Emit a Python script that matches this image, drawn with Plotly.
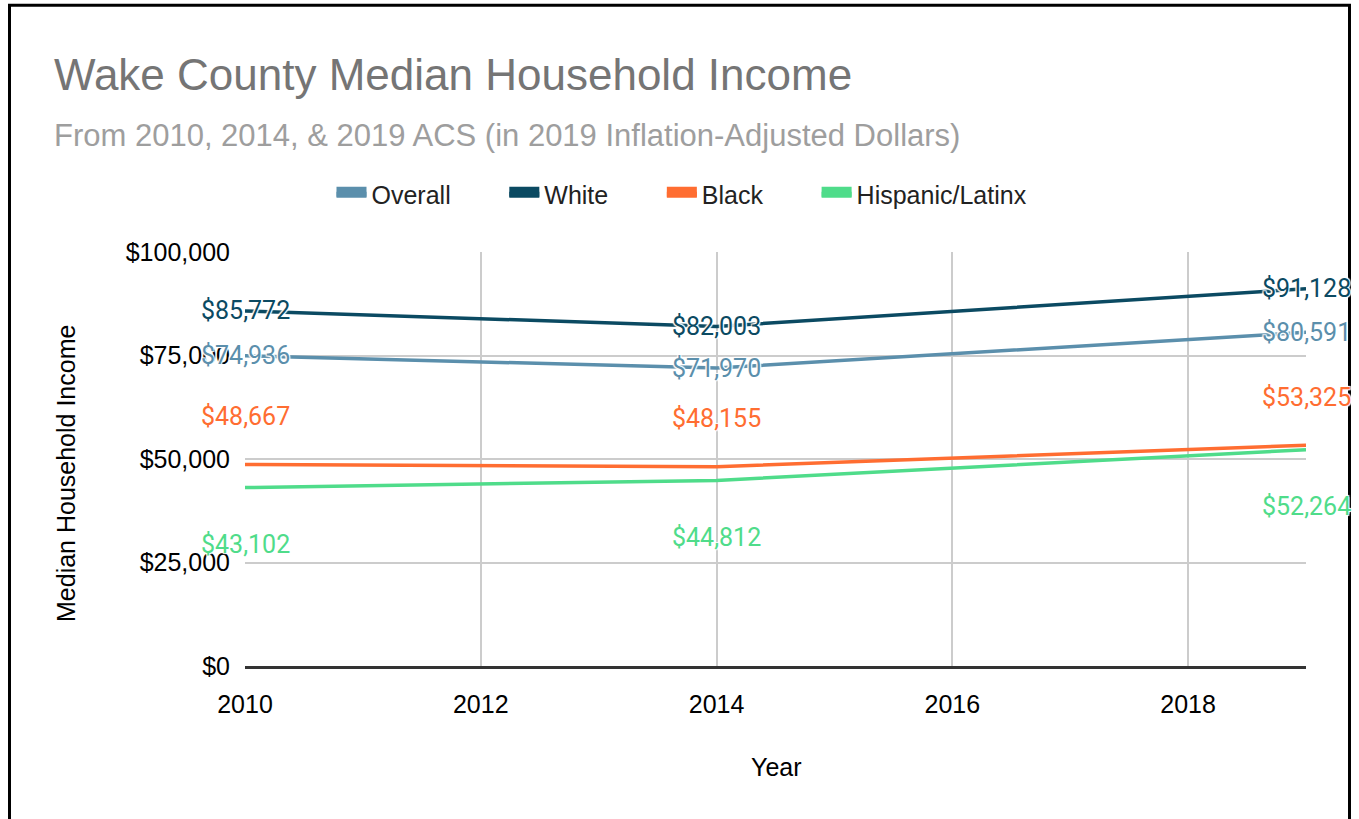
import plotly.graph_objects as go

years = [2010, 2014, 2019]
series_names = ["Overall", "White", "Black", "Hispanic/Latinx"]
overall = [74936, 71970, 80591]
white = [85772, 82003, 91128]
black = [48667, 48155, 53325]
hispanic = [43102, 44812, 52264]
colors = ["#5b8fac", "#0b4a62", "#ff6d31", "#4fdc8a"]
# vertical offset (px) of the value labels, to keep them off the lines
label_shift = [0, 0, 48, -57]

y_ticks = [0, 25000, 50000, 75000, 100000]
y_tick_text = ["$0", "$25,000", "$50,000", "$75,000", "$100,000"]
x_ticks = [2010, 2012, 2014, 2016, 2018]

values = [overall, white, black, hispanic]

W, H = 1359, 819
L, R, T, B = 245, 53, 252, 153
pw, ph = W - L - R, H - T - B

halo = ("1px 1px 1px #fff, -1px -1px 1px #fff, "
        "1px -1px 1px #fff, -1px 1px 1px #fff")
pad = "\u00a0" * 7  # extra room between legend items


def px_x(x):
    return (x - L) / pw


def px_y(y):
    return (H - B - y) / ph


fig = go.Figure()

for name, vals, col in zip(series_names, values, colors):
    fig.add_trace(go.Scatter(x=years, y=vals, mode="lines", name=name,
                             line=dict(color=col, width=3.5),
                             showlegend=False, hoverinfo="skip"))

# legend entries drawn as thick swatches
for i, (name, col) in enumerate(zip(series_names, colors)):
    label = name + (pad if i < len(series_names) - 1 else "")
    fig.add_trace(go.Scatter(x=[None], y=[None], mode="lines", name=label,
                             fill="toself", fillcolor=col,
                             line=dict(color=col, width=10)))

for vals, col, shift in zip(values, colors, label_shift):
    for x, v in zip(years, vals):
        fig.add_annotation(x=x, y=v, text=f"${v:,}", showarrow=False,
                           xanchor="center", yanchor="middle", yshift=shift,
                           font=dict(family="Roboto", size=25, color=col,
                                     shadow=halo))

fig.add_annotation(xref="paper", yref="paper", x=px_x(52), y=px_y(74),
                   xanchor="left", yanchor="middle", showarrow=False,
                   text="Wake County Median Household Income",
                   font=dict(family="Liberation Sans", size=44, color="#757575"))
fig.add_annotation(xref="paper", yref="paper", x=px_x(52), y=px_y(135),
                   xanchor="left", yanchor="middle", showarrow=False,
                   text="From 2010, 2014, & 2019 ACS (in 2019 Inflation-Adjusted Dollars)",
                   font=dict(family="Liberation Sans", size=31, color="#9e9e9e"))
fig.add_annotation(xref="paper", yref="paper", x=px_x(66), y=px_y(474),
                   xanchor="center", yanchor="middle", showarrow=False,
                   textangle=-90, text="Median Household Income",
                   font=dict(family="Liberation Sans", size=25, color="#000000"))
fig.add_annotation(xref="paper", yref="paper", x=px_x(776), y=px_y(767),
                   xanchor="center", yanchor="middle", showarrow=False,
                   text="Year",
                   font=dict(family="Liberation Sans", size=25, color="#000000"))

# outer frame
fig.add_shape(type="rect", xref="paper", yref="paper",
              x0=px_x(9.5), x1=px_x(1349.5), y0=px_y(900), y1=px_y(5.3),
              line=dict(color="#000000", width=3), fillcolor="rgba(0,0,0,0)",
              layer="above")

fig.update_layout(
    width=W, height=H,
    margin=dict(l=L, r=R, t=T, b=B, pad=0),
    paper_bgcolor="white", plot_bgcolor="white",
    font=dict(family="Liberation Sans", size=25, color="#000000"),
    legend=dict(orientation="h", x=px_x(682), xanchor="center", y=px_y(194),
                yanchor="middle", font=dict(size=25, color="#222222"),
                itemwidth=30, bgcolor="rgba(0,0,0,0)"),
    xaxis=dict(range=[2010, 2019], tickvals=x_ticks, showgrid=True,
               gridcolor="#cccccc", gridwidth=2, zeroline=False,
               showline=True, linecolor="#333333", linewidth=2.5,
               ticks="", ticklabelstandoff=14,
               tickfont=dict(size=25, color="#000000")),
    yaxis=dict(range=[0, 100000], tickvals=y_ticks, ticktext=y_tick_text,
               showgrid=True, gridcolor="#cccccc", gridwidth=2,
               zeroline=False, showline=False, ticks="",
               ticklabelstandoff=14,
               tickfont=dict(size=25, color="#000000")),
)

fig.write_html("out.html", config={"displayModeBar": False},
               post_script="document.body.style.margin = '0';")
